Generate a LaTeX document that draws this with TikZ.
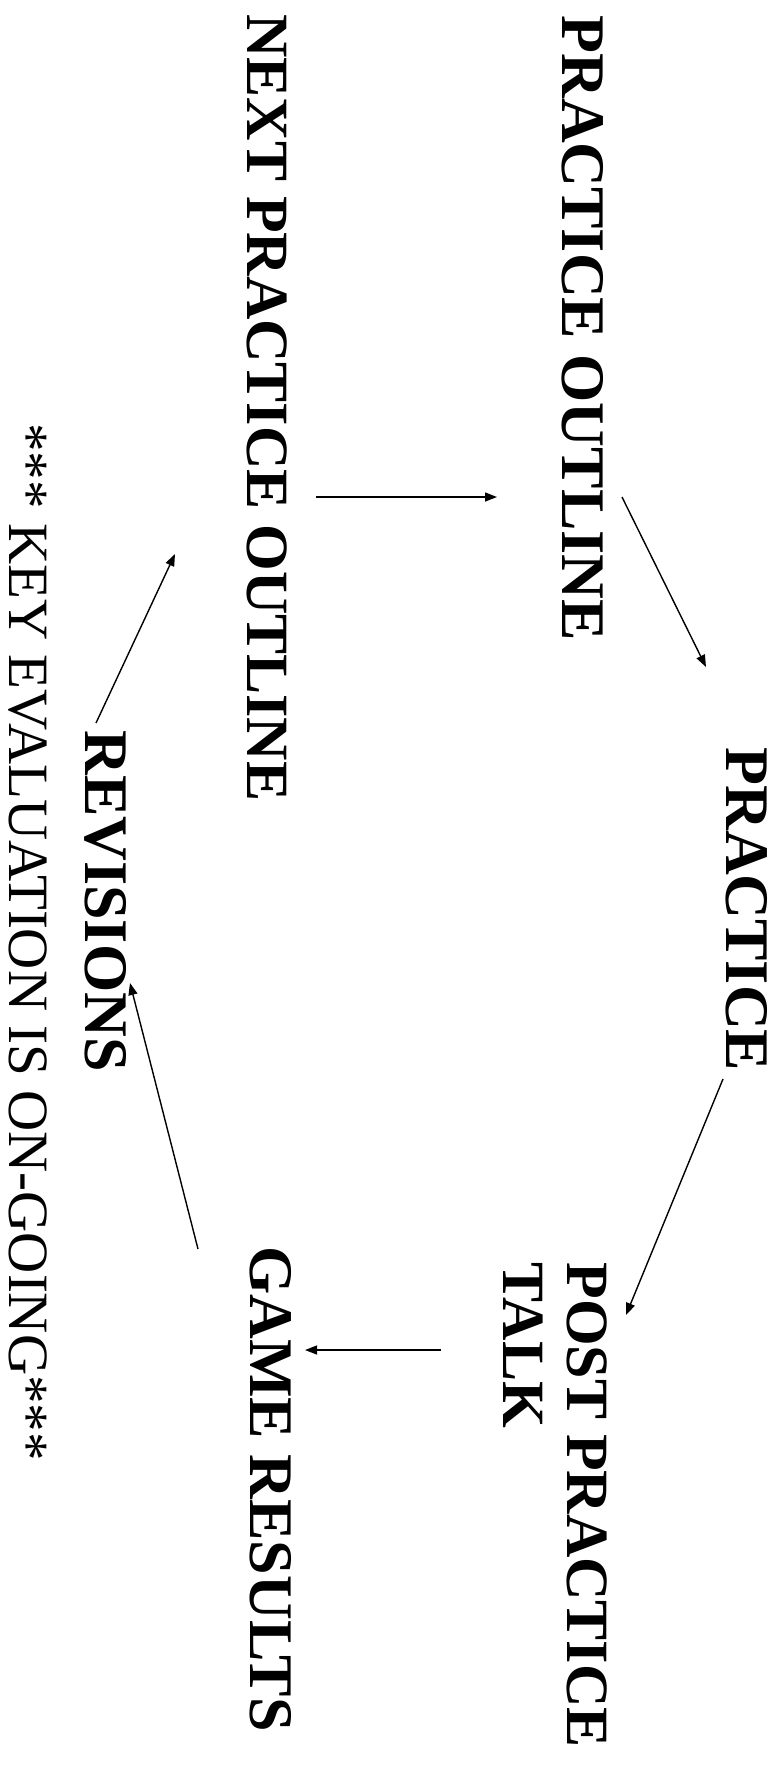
\documentclass[tikz,border=0pt]{standalone}
\usepackage{fontspec}
\setmainfont{Liberation Serif}
\usetikzlibrary{arrows.meta,calc}
\tikzset{
  stage/.style={anchor=base west,inner sep=0pt,font=\bfseries\fontsize{31}{32}\selectfont},
  smallstage/.style={stage,font=\bfseries\fontsize{30}{32}\selectfont},
  note/.style={anchor=base west,inner sep=0pt,font=\fontsize{28.5}{30}\selectfont},
  flow/.style={-{Triangle[length=6pt,width=4.5pt]},line width=0.7pt}
}
\begin{document}
\begin{tikzpicture}[x=0.5pt,y=0.5pt]
\begin{scope}[rotate=-90,transform shape]
\path[use as bounding box] (0,0) rectangle (1767,783);

% stages of the cycle
\node [stage] (po) at (15,562) {PRACTICE OUTLINE};
\node [stage] (pr) at (747,726) {PRACTICE};
\node [smallstage,align=left] (post) at (1262,503) {POST PRACTICE\\TALK};
\node [stage] (gr) at (1246,250) {GAME RESULTS};
\node [stage] (rev) at (730,85) {REVISIONS};
\node [smallstage] (npo) at (14,247) {NEXT PRACTICE OUTLINE};
\node [note] (key) at (423,10) {*** KEY EVALUATION IS ON-GOING***};

% arrows
\draw [flow] ($(npo.base west)+(483,69)$) -- ($(po.base west)+(482,-65)$);
\draw [flow] ($(po.base west)+(482,60)$) -- ($(pr.base west)+(-80,-20)$);
\draw [flow] ($(pr.base west)+(332,-3)$) -- ($(post.base west)+(53,123)$);
\draw [flow] ($(post.base west)+(88,-62)$) -- ($(gr.base west)+(104,55)$);
\draw [flow] ($(gr.base west)+(3,-52)$) -- ($(rev.base west)+(253,45)$);
\draw [flow] ($(rev.base west)+(-7,11)$) -- ($(npo.base west)+(540,-72)$);

\end{scope}
\end{tikzpicture}
\end{document}
